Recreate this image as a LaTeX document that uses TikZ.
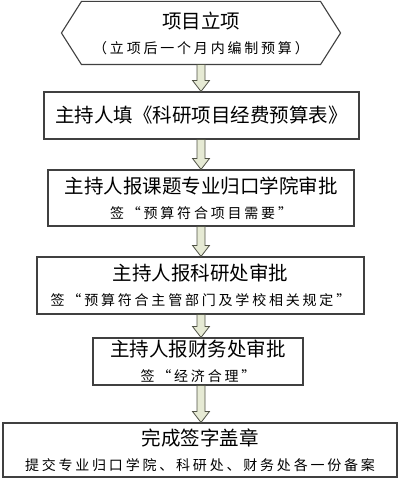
\documentclass[tikz,border=0pt]{standalone}
\usepackage{fontspec}
\newfontfamily\cjk{Noto Sans CJK SC}
\newfontfamily\cjksub[LetterSpace=20]{Noto Sans CJK SC}
\usetikzlibrary{calc}
\definecolor{arrowfill}{RGB}{230,234,212}
\definecolor{arrowline}{RGB}{80,82,70}
\newcommand{\subline}[1]{{\cjksub\fontsize{14}{25}\selectfont #1}}
% hollow block arrow from the bottom of #1 to the top of #2
\newcommand{\flowarrow}[2]{%
    \draw[blockarrow] let \p1=(#1.south), \p2=(#2.north) in
        (197pt,\y1) -- (205pt,\y1) -- (205pt,{\y2+11pt}) -- (209.5pt,{\y2+11pt})
        -- (201pt,\y2) -- (192.5pt,{\y2+11pt}) -- (197pt,{\y2+11pt}) -- cycle;}

\begin{document}
\begin{tikzpicture}[
        stage/.style={draw=black!75,line width=1.1pt,align=center,inner sep=2pt,
            font=\cjk\fontsize{19.5}{25}\selectfont},
        blockarrow/.style={fill=arrowfill,draw=arrowline,line width=0.8pt,line join=miter}
    ]
    \useasboundingbox (0,0) rectangle (400pt,-481pt);

    % start: hexagon drawn round a plain node
    \node[stage,draw=none,minimum width=238pt,minimum height=62pt] (start) at (201pt,-33pt)
        {项目立项\\\subline{（立项后一个月内编制预算）}};
    \draw[black!75,line width=1.1pt] (start.north west) -- (start.north east)
        -- ([xshift=20pt]start.east) -- (start.south east) -- (start.south west)
        -- ([xshift=-20pt]start.west) -- cycle;

    \node[stage,minimum width=315pt,minimum height=47pt] (budget) at (201.5pt,-115.5pt)
        {主持人填《科研项目经费预算表》};
    \node[stage,minimum width=306pt,minimum height=56pt] (college) at (201pt,-198pt)
        {主持人报课题专业归口学院审批\\\subline{签“预算符合项目需要”}};
    \node[stage,minimum width=327pt,minimum height=57pt] (research) at (200.5pt,-285.5pt)
        {主持人报科研处审批\\\subline{签“预算符合主管部门及学校相关规定”}};
    \node[stage,minimum width=210pt,minimum height=47pt] (finance) at (198pt,-361.5pt)
        {主持人报财务处审批\\\subline{签“经济合理”}};
    \node[stage,minimum width=394pt,minimum height=54pt] (seal) at (200pt,-450pt)
        {完成签字盖章\\\subline{提交专业归口学院、科研处、财务处各一份备案}};

    \flowarrow{start}{budget}
    \flowarrow{budget}{college}
    \flowarrow{college}{research}
    \flowarrow{research}{finance}
    \flowarrow{finance}{seal}
\end{tikzpicture}
\end{document}
